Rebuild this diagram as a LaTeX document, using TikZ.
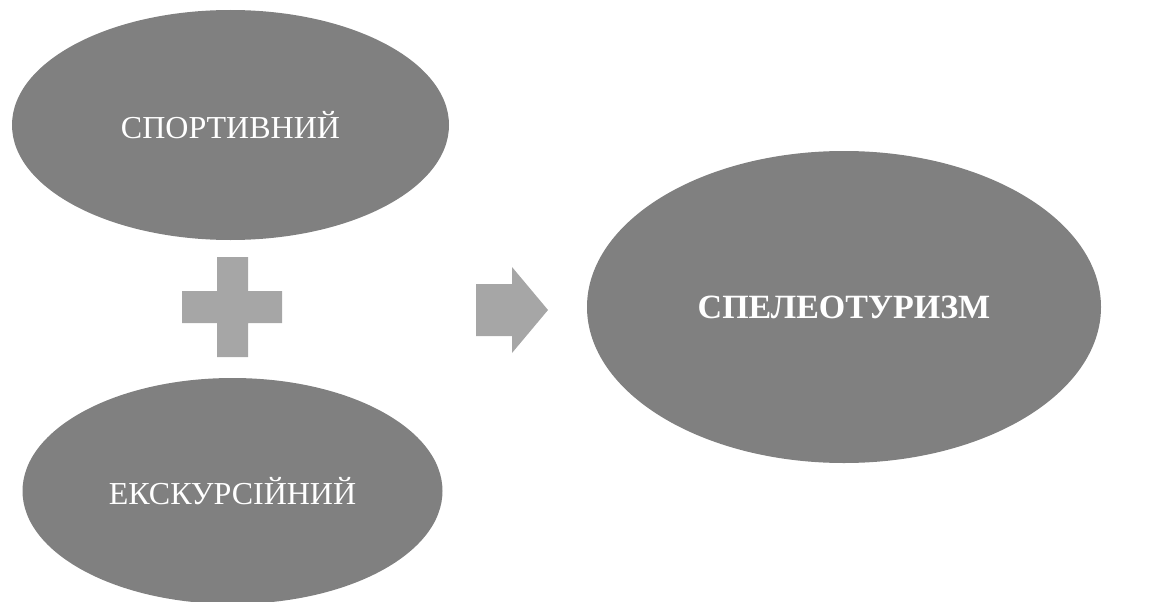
\documentclass[tikz,border=0pt]{standalone}
\usepackage{fontspec}
\setmainfont{Liberation Serif}
\usetikzlibrary{shapes.geometric}
\definecolor{ellgray}{RGB}{128,128,128}
\definecolor{symgray}{RGB}{166,166,166}
\tikzset{
  oval/.style={ellipse, fill=ellgray, draw=none, inner sep=0pt, text=white,
    font=\fontsize{32}{38}\selectfont},
  symb/.style={fill=symgray, draw=none}
}
\begin{document}
\begin{tikzpicture}[x=1pt,y=-1pt]
\useasboundingbox (0,0) rectangle (1159,602);
\node[oval, minimum width=437pt, minimum height=230pt] (sport) at (230.5,125) {СПОРТИВНИЙ};
\node[oval, minimum width=420pt, minimum height=226pt] (eksk) at (232.5,491) {ЕКСКУРСІЙНИЙ};
\node[oval, minimum width=514pt, minimum height=312pt, font=\fontsize{34}{40}\selectfont\bfseries] (speleo) at (844,307) {СПЕЛЕОТУРИЗМ};
% plus sign
\fill[symb] (217,257) -- (248,257) -- (248,291) -- (282,291) -- (282,323) -- (248,323) -- (248,357) -- (217,357) -- (217,323) -- (182,323) -- (182,291) -- (217,291) -- cycle;
% arrow
\fill[symb] (476,284) -- (512,284) -- (512,267) -- (548,310) -- (512,353) -- (512,336) -- (476,336) -- cycle;
\end{tikzpicture}
\end{document}
